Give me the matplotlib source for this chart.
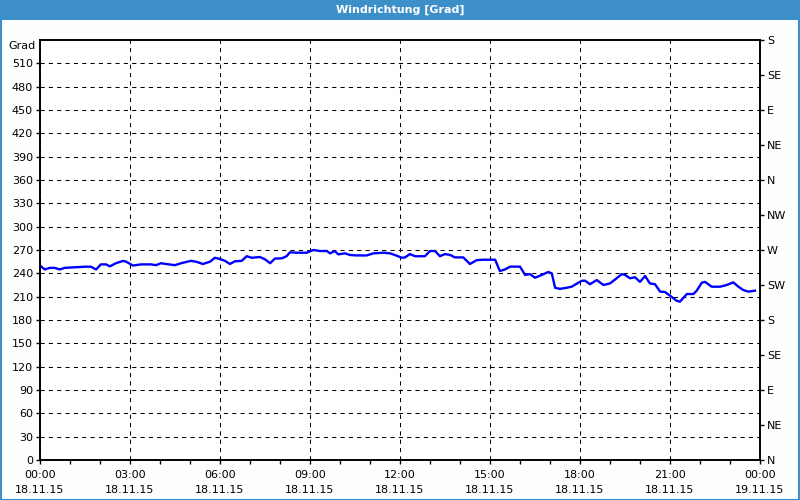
import numpy as np
import matplotlib
matplotlib.use("Agg")
import matplotlib.pyplot as plt
from matplotlib.patches import Rectangle

# Daten: Stunden seit 18.11.15 00:00 und Windrichtung in Grad
stunden = [0.0, 0.16, 0.32, 0.49, 0.66, 0.82, 1.03, 1.27, 1.49, 1.7, 1.87, 2.03,
           2.2, 2.33, 2.53, 2.77, 2.87, 3.1, 3.37, 3.7, 3.87, 4.03, 4.2, 4.5,
           4.7, 5.03, 5.2, 5.43, 5.67, 5.83, 6.0, 6.17, 6.33, 6.5, 6.72, 6.89,
           7.06, 7.33, 7.5, 7.67, 7.83, 8.06, 8.22, 8.33, 8.56, 8.89, 9.11, 9.33,
           9.56, 9.67, 9.83, 9.94, 10.17, 10.33, 10.56, 10.89, 11.11, 11.44, 11.67, 11.89,
           12.06, 12.17, 12.33, 12.5, 12.83, 13.0, 13.17, 13.33, 13.5, 13.67, 13.83, 14.11,
           14.33, 14.56, 14.78, 15.17, 15.33, 15.5, 15.67, 16.0, 16.17, 16.33, 16.5, 16.67,
           16.94, 17.06, 17.17, 17.33, 17.56, 17.72, 18.06, 18.17, 18.33, 18.56, 18.78, 19.0,
           19.22, 19.39, 19.5, 19.67, 19.83, 20.0, 20.17, 20.33, 20.5, 20.67, 20.83, 21.0,
           21.22, 21.33, 21.56, 21.78, 21.89, 22.06, 22.17, 22.39, 22.67, 22.89, 23.11, 23.28,
           23.44, 23.61, 23.83]
grad = [250, 245, 247, 247, 245, 247, 247.5, 248, 248.5, 248.5, 245, 251.5,
        251.5, 249, 253, 256, 255, 250, 251.5, 251.5, 250.5, 253, 252, 250.5,
        253, 256, 255, 252, 255, 260, 258.4, 256, 252, 255.5, 256, 262,
        260, 261, 258, 253, 259, 259.3, 262, 267, 266.5, 266.5, 270, 268.7,
        268.7, 265.7, 268.7, 264.4, 265.7, 263.6, 263, 263, 265.7, 266.5, 265.7, 262.7,
        260, 260.5, 264.8, 262, 262, 268.7, 268.7, 262, 264.8, 263.6, 260.5, 260.5,
        252, 257, 257.5, 257.5, 243, 245, 248.6, 248.6, 238, 239, 234.4, 237,
        241.7, 240, 221.5, 220, 221.5, 222.8, 230.5, 230.5, 226, 231.4, 225, 227,
        233.6, 239, 238, 233.6, 235, 229, 236.6, 227, 226, 216.5, 216, 211.3,
        204.8, 203.5, 213.4, 213.4, 217.7, 228, 229, 222.8, 222.8, 225, 228.4, 222.8,
        218.6, 216.5, 217.7]

x_ticks = [0, 3, 6, 9, 12, 15, 18, 21, 24]
x_labels = ["00:00\n18.11.15", "03:00\n18.11.15", "06:00\n18.11.15",
            "09:00\n18.11.15", "12:00\n18.11.15", "15:00\n18.11.15",
            "18:00\n18.11.15", "21:00\n18.11.15", "00:00\n19.11.15"]
y_ticks = list(range(0, 511, 30))
richtungen = ["N", "NE", "E", "SE", "S", "SW", "W", "NW", "N", "NE", "E", "SE", "S"]
r_ticks = list(range(0, 541, 45))

blau = "#3c8fc8"
fs = 8

fig = plt.figure(figsize=(8, 5), dpi=100)
fig.patch.set_facecolor("#fdfefd")

# Titelleiste und Rahmen
fig.add_artist(Rectangle((0, 0.96), 1, 0.04, transform=fig.transFigure,
                         facecolor=blau, edgecolor="none"))
fig.add_artist(Rectangle((0.0007, 0.001), 0.9986, 0.998, transform=fig.transFigure,
                         facecolor="none", edgecolor=blau, linewidth=1.5))
fig.text(0.5, 0.98, "Windrichtung [Grad]", color="white", fontweight="bold",
         fontsize=fs, ha="center", va="center")

ax = fig.add_axes([0.05, 0.08, 0.9, 0.84])
ax.set_facecolor("white")
ax.plot(stunden, grad, color="#0000ff", linewidth=1.7)

ax.set_xlim(0, 24)
ax.set_ylim(0, 540)
ax.set_xticks(x_ticks)
ax.set_xticklabels(x_labels, fontsize=fs, linespacing=1.6)
ax.set_xticks(np.arange(0, 25, 1), minor=True)
ax.set_yticks(y_ticks)
ax.set_yticklabels([str(v) for v in y_ticks], fontsize=fs)
ax.tick_params(axis="both", which="both", direction="out", length=3, width=1,
               color="black", pad=2)
ax.tick_params(axis="x", which="major", pad=4)

ax.grid(True, which="major", color="black", linestyle=(0, (4, 4)), linewidth=0.75)
for s in ax.spines.values():
    s.set_color("black")
    s.set_linewidth(1.2)

ax.text(-0.006, 0.985, "Grad", transform=ax.transAxes, fontsize=fs,
        ha="right", va="center")

ax2 = ax.twinx()
ax2.set_ylim(0, 540)
ax2.set_yticks(r_ticks)
ax2.set_yticklabels(richtungen, fontsize=fs)
ax2.tick_params(axis="y", direction="out", length=3, width=1, pad=2)
for s in ax2.spines.values():
    s.set_color("black")
    s.set_linewidth(1.2)

fig.savefig("out.png", dpi=100, facecolor=fig.get_facecolor())
